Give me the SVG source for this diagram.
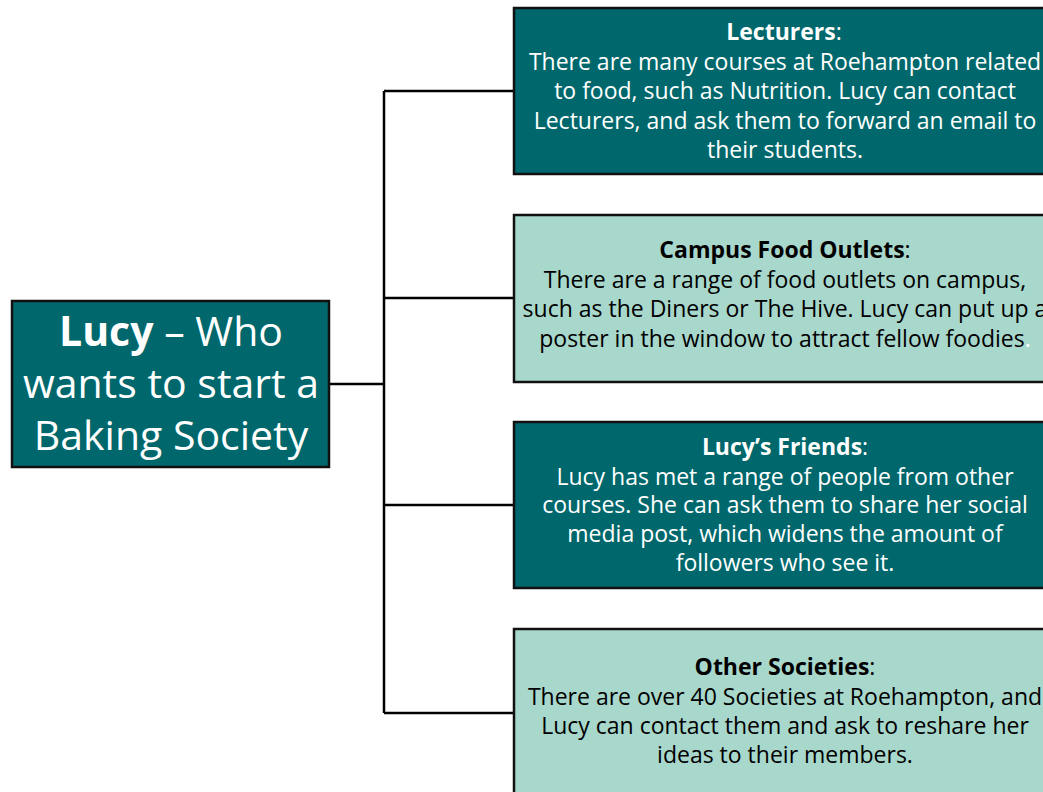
<svg xmlns="http://www.w3.org/2000/svg" width="1043" height="792" viewBox="0 0 1043 792">
<style>
.dark{fill:#00686C;stroke:#111;stroke-width:2.5}
.light{fill:#A8D7CC;stroke:#111;stroke-width:2.5}
.t{font-family:"Open Sans","Noto Sans",sans-serif;font-size:23px;text-anchor:middle}
.w{fill:#fff}
.k{fill:#000}
.b{font-weight:bold}
.main{font-family:"Open Sans","Noto Sans",sans-serif;font-size:41px;text-anchor:middle;fill:#fff}
.c{fill:none;stroke:#000;stroke-width:2.5}
</style>
<rect width="1043" height="792" fill="#fff"/>
<g id="connectors">
<path class="c" d="M329 384H384M384 91V713M384 91H514M384 298H514M384 505H514M384 713H514"/>
</g>
<g id="lucy">
<rect class="dark" x="12" y="301" width="317" height="166"/>
<text class="main" x="171" y="346"><tspan class="b">Lucy</tspan> – Who</text>
<text class="main" x="171" y="398">wants to start a</text>
<text class="main" x="171" y="450">Baking Society</text>
</g>
<g id="lecturers">
<rect class="dark" x="514" y="8" width="540" height="166"/>
<text class="t w" x="784" y="40"><tspan class="b">Lecturers</tspan>:</text>
<text class="t w" x="785" y="70">There are many courses at Roehampton related</text>
<text class="t w" x="785" y="99">to food, such as Nutrition. Lucy can contact</text>
<text class="t w" x="785" y="129">Lecturers, and ask them to forward an email to</text>
<text class="t w" x="785" y="158">their students.</text>
</g>
<g id="campus">
<rect class="light" x="514" y="215" width="540" height="167"/>
<text class="t k" x="785" y="258"><tspan class="b">Campus Food Outlets</tspan>:</text>
<text class="t k" x="785" y="288">There are a range of food outlets on campus,</text>
<text class="t k" x="785" y="317">such as the Diners or The Hive. Lucy can put up a</text>
<text class="t k" x="785" y="347">poster in the window to attract fellow foodies<tspan fill="#fff">.</tspan></text>
</g>
<g id="friends">
<rect class="dark" x="514" y="422" width="540" height="166"/>
<text class="t w" x="785" y="455"><tspan class="b">Lucy’s Friends</tspan>:</text>
<text class="t w" x="785" y="485">Lucy has met a range of people from other</text>
<text class="t w" x="785" y="513">courses. She can ask them to share her social</text>
<text class="t w" x="785" y="542">media post, which widens the amount of</text>
<text class="t w" x="785" y="571">followers who see it.</text>
</g>
<g id="societies">
<rect class="light" x="514" y="629" width="540" height="180"/>
<text class="t k" x="785" y="675"><tspan class="b">Other Societies</tspan>:</text>
<text class="t k" x="785" y="705">There are over 40 Societies at Roehampton, and</text>
<text class="t k" x="785" y="734">Lucy can contact them and ask to reshare her</text>
<text class="t k" x="785" y="763">ideas to their members.</text>
</g>
</svg>
